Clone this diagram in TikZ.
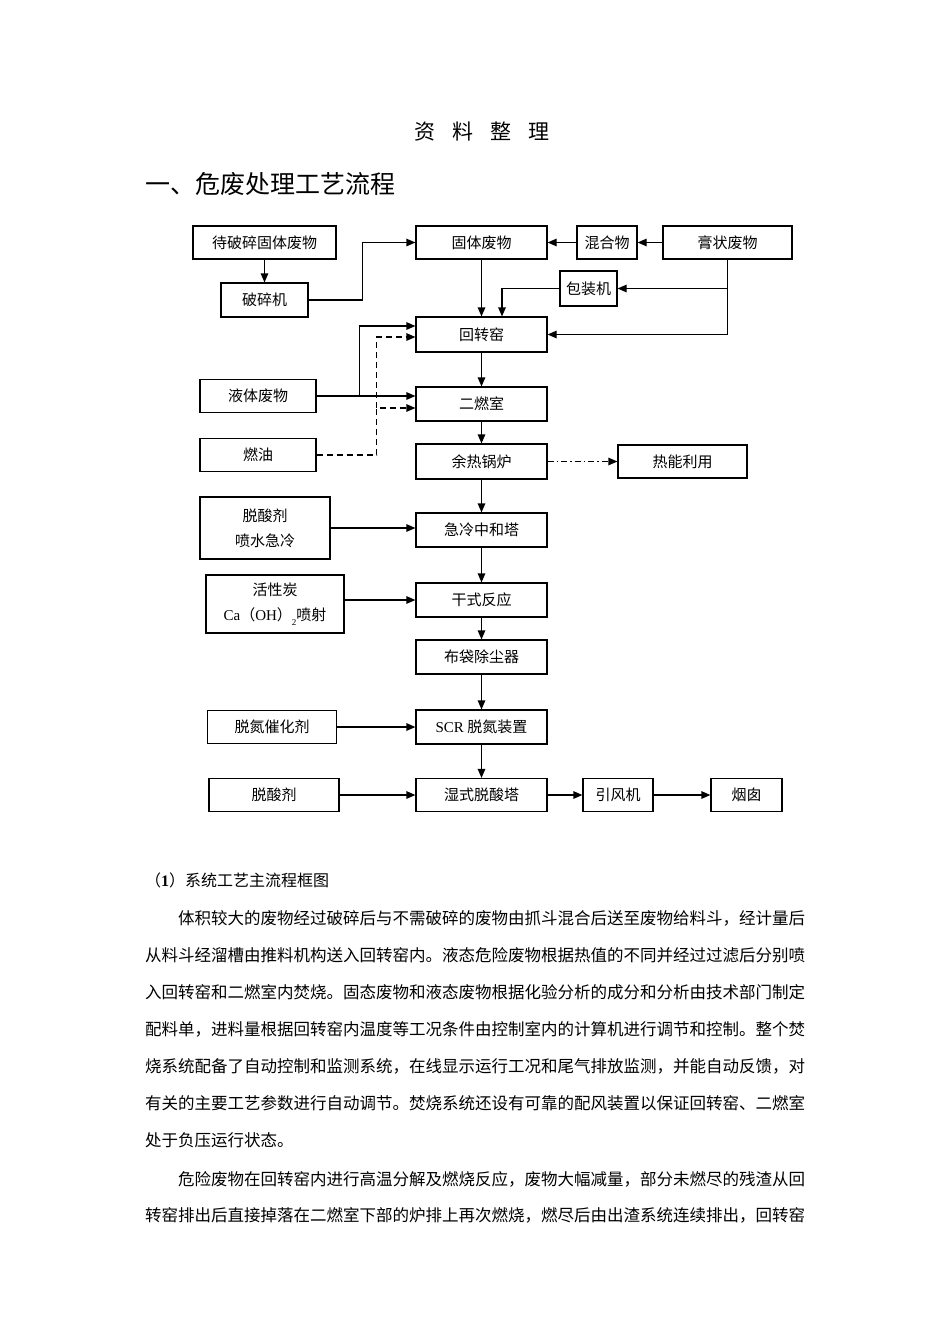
\documentclass[tikz,border=0pt]{standalone}
\usepackage{fontspec}
\setmainfont{Noto Sans CJK SC}
\newfontfamily\en{Liberation Serif}
\usetikzlibrary{arrows.meta}

\begin{document}
\begin{tikzpicture}[x = 1pt, y = -1pt,
        box/.style={draw, line width=1.2pt, inner sep=0pt, font=\fontsize{15}{18}\selectfont},
        twoline/.style={box, align=center, font=\fontsize{15}{25}\selectfont},
        arr/.style={line width=1.2pt, -{Triangle[length=9pt,width=7.5pt]}},
        dasharr/.style={arr, dash pattern=on 6pt off 4pt},
        dotarr/.style={arr, dash pattern=on 6pt off 3pt on 1.5pt off 3pt},
        para/.style={anchor=west, inner sep=0pt, font=\fontsize{16.5}{20}\selectfont}
]
    \path[fill=white, use as bounding box] (0,0) rectangle (950,1344);

    % headings
    \node[inner sep=0pt, font=\fontsize{21}{24}\selectfont] (title) at (482,132) {资\hspace{17pt}料\hspace{17pt}整\hspace{17pt}理};
    \node[anchor=west, inner sep=0pt, font=\fontsize{25}{28}\selectfont] (head) at (145,184) {一、危废处理工艺流程};

    % flow chart
    \node[box, minimum width=143pt, minimum height=33pt] (crushin) at (264.5,242.5) {待破碎固体废物};
    \node[box, minimum width=87pt, minimum height=34pt] (crusher) at (264.5,300) {破碎机};
    \node[box, minimum width=131pt, minimum height=33pt] (solid) at (481.5,242.5) {固体废物};
    \node[box, minimum width=60pt, minimum height=33pt] (mix) at (607,242.5) {混合物};
    \node[box, minimum width=129pt, minimum height=33pt] (paste) at (727.5,242.5) {膏状废物};
    \node[box, minimum width=57pt, minimum height=35pt] (pack) at (588.5,288.5) {包装机};
    \node[box, minimum width=131pt, minimum height=35pt] (kiln) at (481.5,334.5) {回转窑};
    \node[box, minimum width=116pt, minimum height=33pt] (liquid) at (258,396) {液体废物};
    \node[box, minimum width=131pt, minimum height=34pt] (second) at (481.5,404) {二燃室};
    \node[box, minimum width=116pt, minimum height=33pt] (oil) at (258,455) {燃油};
    \node[box, minimum width=131pt, minimum height=35pt] (boiler) at (481.5,461.5) {余热锅炉};
    \node[box, minimum width=129pt, minimum height=33pt] (heat) at (682.5,461.5) {热能利用};
    \node[twoline, minimum width=130pt, minimum height=62pt] (deacidA) at (265,528) {脱酸剂\\喷水急冷};
    \node[box, minimum width=131pt, minimum height=34pt] (quench) at (481.5,530) {急冷中和塔};
    \node[twoline, minimum width=138pt, minimum height=58pt] (carbon) at (275,604) {活性炭\\{\en Ca}（{\en OH}）\raisebox{-5pt}{\fontsize{9}{9}\selectfont\en 2}喷射};
    \node[box, minimum width=131pt, minimum height=34pt] (dry) at (481.5,600) {干式反应};
    \node[box, minimum width=131pt, minimum height=34pt] (bag) at (481.5,657) {布袋除尘器};
    \node[box, minimum width=129pt, minimum height=33pt] (denox) at (272,727) {脱氮催化剂};
    \node[box, minimum width=131pt, minimum height=34pt] (scr) at (481.5,727) {{\en SCR} 脱氮装置};
    \node[box, minimum width=130pt, minimum height=33pt] (deacidB) at (274,795) {脱酸剂};
    \node[box, minimum width=131pt, minimum height=33pt] (wet) at (481.5,795) {湿式脱酸塔};
    \node[box, minimum width=70pt, minimum height=33pt] (fan) at (618,795) {引风机};
    \node[box, minimum width=71pt, minimum height=33pt] (stack) at (746.5,795) {烟囱};

    % feed lines
    \draw[arr] (crushin) -- (crusher);
    \draw[arr] (crusher.east) -- ++(54,0) |- (solid.west);
    \draw[arr] (paste) -- (mix);
    \draw[arr] (mix) -- (solid);
    \draw[arr] (solid) -- (kiln);
    \coordinate (pastedown) at (paste.south |- pack.east);
    \draw[arr] (paste.south) |- (kiln.east);
    \draw[arr] (pastedown) -- (pack.east);
    \draw[arr] (pack.west) -| ([xshift=20.5pt]kiln.north);
    \coordinate (liqup) at ([xshift=43pt]liquid.east);
    \draw[arr] (liquid.east) -- (liquid.east -| second.west);
    \draw[arr] (liqup) |- ([yshift=8.5pt]kiln.west);
    \coordinate (oilup) at ([xshift=60pt]oil.east);
    \draw[dasharr] (oil.east) -- (oilup) |- ([yshift=-4pt]second.west);
    \draw[dasharr] ([yshift=-4pt]second.west -| oilup) |- ([yshift=-2.5pt]kiln.west);

    % main line
    \draw[arr] (kiln) -- (second);
    \draw[arr] (second) -- (boiler);
    \draw[dotarr] (boiler) -- (heat);
    \draw[arr] (boiler) -- (quench);
    \draw[arr] (quench) -- (dry);
    \draw[arr] (dry) -- (bag);
    \draw[arr] (bag) -- (scr);
    \draw[arr] (scr) -- (wet);
    \draw[arr] (wet) -- (fan);
    \draw[arr] (fan) -- (stack);
    \draw[arr] (deacidA.east) -- (deacidA.east -| quench.west);
    \draw[arr] (carbon.east |- dry.west) -- (dry.west);
    \draw[arr] (denox) -- (scr);
    \draw[arr] (deacidB) -- (wet);

    % text below
    \node[para, font=\fontsize{16}{20}\selectfont] (sub) at (145,880) {（{\en\bfseries 1}）系统工艺主流程框图};
    \node[para] (lineA) at (178,918) {体积较大的废物经过破碎后与不需破碎的废物由抓斗混合后送至废物给料斗，经计量后};
    \node[para] (lineB) at (145,955) {从料斗经溜槽由推料机构送入回转窑内。液态危险废物根据热值的不同并经过过滤后分别喷};
    \node[para] (lineC) at (145,992) {入回转窑和二燃室内焚烧。固态废物和液态废物根据化验分析的成分和分析由技术部门制定};
    \node[para] (lineD) at (145,1029) {配料单，进料量根据回转窑内温度等工况条件由控制室内的计算机进行调节和控制。整个焚};
    \node[para] (lineE) at (145,1066) {烧系统配备了自动控制和监测系统，在线显示运行工况和尾气排放监测，并能自动反馈，对};
    \node[para] (lineF) at (145,1103) {有关的主要工艺参数进行自动调节。焚烧系统还设有可靠的配风装置以保证回转窑、二燃室};
    \node[para] (lineG) at (145,1140) {处于负压运行状态。};
    \node[para] (lineH) at (178,1179) {危险废物在回转窑内进行高温分解及燃烧反应，废物大幅减量，部分未燃尽的残渣从回};
    \node[para] (lineI) at (145,1215) {转窑排出后直接掉落在二燃室下部的炉排上再次燃烧，燃尽后由出渣系统连续排出，回转窑};

\end{tikzpicture}
\end{document}
